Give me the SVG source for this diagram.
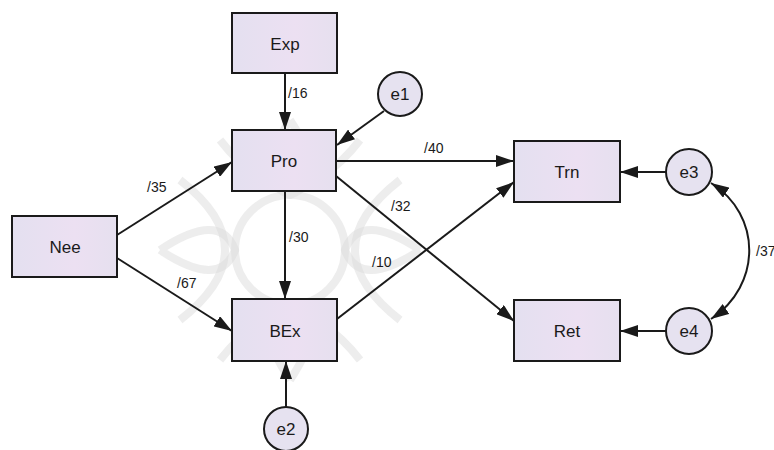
<svg xmlns="http://www.w3.org/2000/svg" width="774" height="450" viewBox="0 0 774 450">
<style>
.box{fill:url(#g);stroke:#1a1a1a;stroke-width:2}
.circ{fill:#e6e2f0;stroke:#1a1a1a;stroke-width:2}
.lbl{font-family:"Liberation Sans",Arial,sans-serif;font-size:17px;fill:#1a1a1a;text-anchor:middle;dominant-baseline:central}
.pl{font-family:"Liberation Sans",Arial,sans-serif;font-size:14px;fill:#1a1a1a}
.c{stroke:#1a1a1a;stroke-width:2;fill:none;marker-end:url(#a)}
.wm{fill:none;stroke:#dcdcdc;stroke-width:8;opacity:0.5}
</style>
<defs>
<linearGradient id="g" x1="0" y1="0" x2="1" y2="0">
<stop offset="0" stop-color="#e4e0f0"/>
<stop offset="0.6" stop-color="#ece0f2"/>
<stop offset="1" stop-color="#e6e0ef"/>
</linearGradient>
<marker id="a" viewBox="0 0 18 12" refX="18" refY="6" markerWidth="18" markerHeight="12" markerUnits="userSpaceOnUse" orient="auto">
<path d="M0,0 L18,6 L0,12 Z" fill="#1a1a1a"/>
</marker>
<marker id="s" viewBox="0 0 18 12" refX="0" refY="6" markerWidth="18" markerHeight="12" markerUnits="userSpaceOnUse" orient="auto">
<path d="M18,0 L0,6 L18,12 Z" fill="#1a1a1a"/>
</marker>
</defs>
<rect width="774" height="450" fill="#ffffff"/>
<g id="watermark">
<circle class="wm" cx="290" cy="250" r="55"/>
<path class="wm" d="M220,140 Q290,230 360,140 M220,360 Q290,270 360,360 M180,180 Q270,250 180,320 M400,180 Q310,250 400,320"/>
<path class="wm" d="M290,120 Q250,180 290,195 Q330,180 290,120 M290,380 Q250,320 290,305 Q330,320 290,380 M160,250 Q220,210 235,250 Q220,290 160,250 M420,250 Q360,210 345,250 Q360,290 420,250"/>
</g>
<g id="connectors">
<line class="c" x1="285" y1="73" x2="285" y2="130"/>
<line class="c" x1="384" y1="111" x2="337" y2="145"/>
<line class="c" x1="117" y1="235" x2="232" y2="162"/>
<line class="c" x1="117" y1="258" x2="232" y2="331"/>
<line class="c" x1="285" y1="191" x2="285" y2="299"/>
<line class="c" x1="336" y1="161" x2="514" y2="161"/>
<line class="c" x1="336" y1="176" x2="514" y2="321"/>
<line class="c" x1="337" y1="319" x2="514" y2="182"/>
<line class="c" x1="286" y1="407" x2="286" y2="361"/>
<line class="c" x1="666" y1="172" x2="620" y2="172"/>
<line class="c" x1="666" y1="331" x2="620" y2="331"/>
<path d="M711,183 C762,215 762,285 711,319" stroke="#1a1a1a" stroke-width="2" fill="none" marker-start="url(#s)" marker-end="url(#a)"/>
<text class="pl" x="288" y="98">/16</text>
<text class="pl" x="147" y="192">/35</text>
<text class="pl" x="424" y="153">/40</text>
<text class="pl" x="391" y="211">/32</text>
<text class="pl" x="289" y="242">/30</text>
<text class="pl" x="372" y="267">/10</text>
<text class="pl" x="177" y="288">/67</text>
<text class="pl" x="756" y="256">/37</text>
</g>
<g id="Exp"><rect class="box" x="232" y="13" width="105" height="60"/><text class="lbl" x="285" y="44">Exp</text></g>
<g id="Pro"><rect class="box" x="232" y="130" width="104" height="61"/><text class="lbl" x="284" y="161">Pro</text></g>
<g id="Nee"><rect class="box" x="12" y="216" width="105" height="61"/><text class="lbl" x="65" y="247">Nee</text></g>
<g id="BEx"><rect class="box" x="232" y="299" width="105" height="62"/><text class="lbl" x="285" y="331">BEx</text></g>
<g id="Trn"><rect class="box" x="514" y="141" width="106" height="61"/><text class="lbl" x="567" y="172">Trn</text></g>
<g id="Ret"><rect class="box" x="514" y="300" width="106" height="61"/><text class="lbl" x="567" y="331">Ret</text></g>
<g id="e1"><circle class="circ" cx="400" cy="94" r="22"/><text class="lbl" x="400" y="94">e1</text></g>
<g id="e2"><circle class="circ" cx="286" cy="429" r="22"/><text class="lbl" x="286" y="429">e2</text></g>
<g id="e3"><circle class="circ" cx="689" cy="172" r="23"/><text class="lbl" x="689" y="172">e3</text></g>
<g id="e4"><circle class="circ" cx="689" cy="331" r="23"/><text class="lbl" x="689" y="331">e4</text></g>
</svg>
